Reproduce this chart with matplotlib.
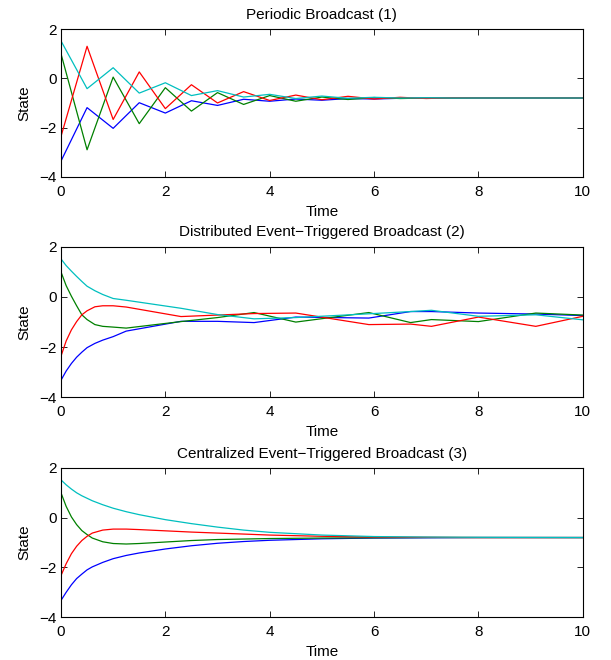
import matplotlib
matplotlib.use("Agg")
import matplotlib.pyplot as plt

plt.rcParams['font.family'] = ['Liberation Sans', 'DejaVu Sans']

titles = ["Periodic Broadcast (1)",
          "Distributed Event\u2212Triggered Broadcast (2)",
          "Centralized Event\u2212Triggered Broadcast (3)"]

# Panel 1: periodic broadcast
t1 = [0, 0.5, 1, 1.5, 2, 2.5, 3, 3.5, 4, 4.5, 5, 5.5, 6, 6.5, 7, 7.5, 8, 8.5, 9, 9.5, 10]
p1_blue = [-3.36, -1.19, -2.03, -0.99, -1.41, -0.91, -1.10, -0.85, -0.93, -0.84, -0.89, -0.82, -0.84, -0.81, -0.80, -0.80, -0.80, -0.80, -0.80, -0.80, -0.80]
p1_green = [1.00, -2.90, 0.05, -1.84, -0.38, -1.33, -0.58, -1.06, -0.70, -0.93, -0.76, -0.86, -0.78, -0.82, -0.80, -0.80, -0.80, -0.80, -0.80, -0.80, -0.80]
p1_red = [-2.36, 1.30, -1.67, 0.26, -1.23, -0.26, -1.00, -0.54, -0.90, -0.68, -0.87, -0.73, -0.84, -0.77, -0.82, -0.79, -0.80, -0.80, -0.80, -0.80, -0.80]
p1_cyan = [1.52, -0.42, 0.43, -0.60, -0.18, -0.70, -0.50, -0.76, -0.65, -0.82, -0.72, -0.81, -0.77, -0.80, -0.79, -0.80, -0.80, -0.80, -0.80, -0.80, -0.80]

# Panel 2: distributed event-triggered
t2 = [0, 0.1, 0.2, 0.3, 0.4, 0.5, 0.65, 0.8, 1.0, 1.25, 2.3, 3.0, 3.7, 4.5, 5.9, 6.7, 7.1, 8.0, 9.1, 10]
p2_blue = [-3.32, -2.95, -2.65, -2.40, -2.20, -2.02, -1.85, -1.72, -1.58, -1.36, -0.97, -0.97, -1.02, -0.80, -0.84, -0.58, -0.58, -0.64, -0.68, -0.74]
p2_green = [1.00, 0.45, 0.03, -0.35, -0.71, -0.90, -1.10, -1.17, -1.20, -1.24, -0.98, -0.82, -0.62, -1.00, -0.62, -1.02, -0.90, -0.98, -0.64, -0.72]
p2_red = [-2.36, -1.75, -1.31, -0.98, -0.71, -0.55, -0.39, -0.35, -0.35, -0.40, -0.78, -0.72, -0.66, -0.64, -1.10, -1.08, -1.17, -0.80, -1.17, -0.77]
p2_cyan = [1.52, 1.25, 1.03, 0.82, 0.62, 0.43, 0.25, 0.10, -0.06, -0.13, -0.45, -0.70, -0.87, -0.82, -0.67, -0.58, -0.53, -0.77, -0.71, -0.91]

# Panel 3: centralized event-triggered
t3 = [0, 0.1, 0.2, 0.3, 0.4, 0.5, 0.6, 0.8, 1.0, 1.25, 1.5, 2.0, 2.5, 3.0, 3.5, 4.0, 5.0, 6.0, 7.0, 8.0, 10.0]
p3_blue = [-3.33, -3.00, -2.70, -2.45, -2.27, -2.10, -1.98, -1.80, -1.65, -1.52, -1.42, -1.26, -1.13, -1.03, -0.96, -0.91, -0.85, -0.82, -0.81, -0.80, -0.80]
p3_green = [1.00, 0.45, 0.03, -0.28, -0.52, -0.68, -0.82, -0.97, -1.04, -1.06, -1.04, -0.98, -0.92, -0.88, -0.86, -0.84, -0.82, -0.81, -0.80, -0.80, -0.80]
p3_red = [-2.33, -1.85, -1.45, -1.15, -0.92, -0.75, -0.62, -0.50, -0.46, -0.46, -0.48, -0.53, -0.58, -0.62, -0.66, -0.70, -0.75, -0.78, -0.79, -0.80, -0.80]
p3_cyan = [1.52, 1.32, 1.15, 1.00, 0.88, 0.78, 0.68, 0.52, 0.38, 0.24, 0.12, -0.08, -0.24, -0.38, -0.50, -0.59, -0.70, -0.76, -0.78, -0.79, -0.80]

x_ticks = [0, 2, 4, 6, 8, 10]
y_ticks = [-4, -2, 0, 2]
colors = ['#0000ff', '#008000', '#ff0000', '#00bfbf']

panels = [
    (t1, [p1_blue, p1_green, p1_red, p1_cyan]),
    (t2, [p2_blue, p2_green, p2_red, p2_cyan]),
    (t3, [p3_blue, p3_green, p3_red, p3_cyan]),
]

fig = plt.figure(figsize=(6.11, 6.6), dpi=100)
positions = [
    [0.0998, 0.732, 0.854, 0.224],
    [0.0998, 0.398, 0.854, 0.228],
    [0.0998, 0.065, 0.854, 0.226],
]

fs = 11
for pos, title, (t, series) in zip(positions, titles, panels):
    ax = fig.add_axes(pos)
    for ys, c in zip(series, colors):
        ax.plot(t, ys, color=c, linewidth=0.9)
    ax.set_xlim(0, 10)
    ax.set_ylim(-4, 2)
    ax.set_xticks(x_ticks)
    ax.set_yticks(y_ticks)
    ax.tick_params(direction='in', top=True, right=True, labelsize=fs,
                   length=4, width=0.6)
    ax.tick_params(axis='x', pad=5.5)
    ax.tick_params(axis='y', pad=3)
    for s in ax.spines.values():
        s.set_linewidth(0.8)
    ax.set_title(title, fontsize=fs, pad=7.5)
    ax.set_xlabel("Time", fontsize=fs, labelpad=4.5)
    ax.set_ylabel("State", fontsize=fs, labelpad=6)

fig.savefig("out.png", dpi=100)
